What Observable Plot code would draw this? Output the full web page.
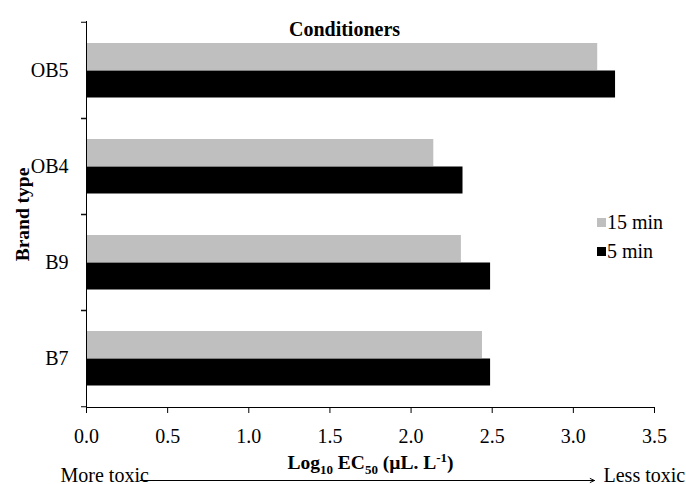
<!DOCTYPE html>
<html>
<head>
<meta charset="utf-8">
<script src="https://cdn.jsdelivr.net/npm/d3@7"></script>
<script src="https://cdn.jsdelivr.net/npm/@observablehq/plot@0.6"></script>
<style>
  body { margin: 0; background: #fff; }
  #wrap { position: relative; width: 686px; height: 484px; font-family: "Liberation Serif", "Times New Roman", serif; }
  #wrap svg, #wrap svg text, #legend, #legend * { font-family: "Liberation Serif", "Times New Roman", serif !important; }
  #legend { position: absolute; left: 597px; top: 208px; }
  #legend .lg-swatch { line-height: 28px; padding-bottom: 1px !important; }
  #legend .lg-swatch svg { margin-right: 1px !important; }
</style>
</head>
<body>
<div id="wrap"><div id="legend"></div></div>
<script>
// ---- data ----
const brands = ["OB5", "OB4", "B9", "B7"];
const series = ["15 min", "5 min"];
const values15 = [3.15, 2.14, 2.31, 2.44];
const values5 = [3.26, 2.32, 2.49, 2.49];
const seriesColors = ["#bfbfbf", "#000000"];
const xTicks = [0, 0.5, 1, 1.5, 2, 2.5, 3, 3.5];
const titleText = "Conditioners";
const yLabel = "Brand type";
const xLabel = "Log10 EC50 (µL. L-1)";
const leftNote = "More toxic";
const rightNote = "Less toxic";
const arrowSpan = [{from: 0.33, to: 3.13, brand: "B7"}];

const rows = [];
brands.forEach((b, i) => {
  rows.push({brand: b, series: series[0], value: values15[i]});
  rows.push({brand: b, series: series[1], value: values5[i]});
});

const font = "'Liberation Serif', 'Times New Roman', serif";

const chart = Plot.plot({
  width: 686,
  height: 484,
  marginTop: 21,
  marginRight: 32,
  marginBottom: 77,
  marginLeft: 86,
  style: {fontFamily: font, fontSize: "20px", color: "#000", background: "#fff", overflow: "visible"},
  x: {domain: [0, 3.5], axis: null},
  y: {domain: brands, padding: 0, axis: null},
  color: {domain: series, range: seriesColors},
  marks: [
    Plot.barX(rows.filter(d => d.series === series[0]), {y: "brand", x: "value", fill: "series", insetTop: 21, insetBottom: 48}),
    Plot.barX(rows.filter(d => d.series === series[1]), {y: "brand", x: "value", fill: "series", insetTop: 48.5, insetBottom: 20.5}),
    Plot.frame({anchor: "left", stroke: "#000"}),
    Plot.frame({anchor: "bottom", stroke: "#000"}),
    Plot.axisX({ticks: xTicks, tickFormat: d => d.toFixed(1), tickSize: 6, tickPadding: 15, label: null, fontSize: 20}),
    Plot.axisY({tickSize: 5, text: null, label: null, dy: -48.25}),
    Plot.axisY({tickSize: 5, text: null, label: null, dy: 48.25}),
    Plot.axisY({tickSize: 0, tickPadding: 18, label: null, fontSize: 20}),
    Plot.text([titleText], {frameAnchor: "top", dx: -26, dy: 0, fontWeight: "bold", fontSize: 20}),
    Plot.text([yLabel], {frameAnchor: "left", textAnchor: "middle", rotate: -90, dx: -64, fontWeight: "bold", fontSize: 19.5}),
    Plot.text([xLabel], {frameAnchor: "bottom", dy: 61, fontWeight: "bold", fontSize: 19.5}),
    Plot.text([leftNote], {frameAnchor: "bottom-left", textAnchor: "start", dx: -26, dy: 74, fontSize: 20}),
    Plot.text([rightNote], {frameAnchor: "bottom-right", textAnchor: "start", dx: -51, dy: 74, fontSize: 20}),
    Plot.arrow(arrowSpan, {x1: "from", x2: "to", y1: "brand", y2: "brand", dy: 122, stroke: "#000", strokeWidth: 1, headLength: 7, headAngle: 50})
  ]
});

// subscripts / superscript in the x label
d3.select(chart).selectAll("text").filter(function() { return this.textContent === xLabel; }).each(function() {
  const t = d3.select(this);
  t.text(null);
  const parts = [["Log", 0], ["10", 1], [" EC", 0], ["50", 1], [" (µL. L", 0], ["-1", -1], [")", 0]];
  let shift = 0;
  for (const [s, k] of parts) {
    const target = k === 1 ? 5 : k === -1 ? -7 : 0;
    const ts = t.append("tspan").attr("dy", target - shift).text(s);
    if (k !== 0) ts.attr("font-size", 13);
    shift = target;
  }
});

document.getElementById("wrap").prepend(chart);
chart.style.position = "absolute";
chart.style.left = "0px";
chart.style.top = "0px";

const legend = Plot.legend({
  color: {domain: series, range: seriesColors},
  legend: "swatches",
  swatchSize: 9,
  columns: 1,
  className: "lg",
  style: {fontFamily: font, fontSize: "20px", color: "#000"}
});
document.getElementById("legend").appendChild(legend);
</script>
</body>
</html>
